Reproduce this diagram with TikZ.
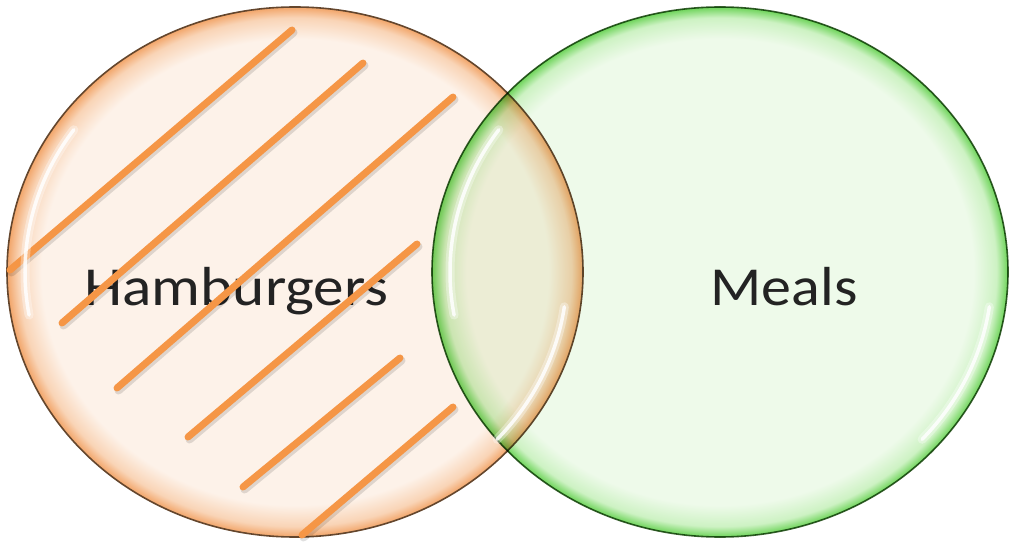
\documentclass[tikz,border=0pt]{standalone}
\usepackage{fontspec}
\setmainfont{Carlito}
\usetikzlibrary{shapes.geometric}
\definecolor{oin}{RGB}{253,242,233}
\definecolor{omid}{RGB}{249,212,182}
\definecolor{orim}{RGB}{242,165,105}
\definecolor{obord}{RGB}{100,70,45}
\definecolor{gin}{RGB}{238,250,234}
\definecolor{gmid}{RGB}{205,242,195}
\definecolor{grim}{RGB}{110,212,90}
\definecolor{gbord}{RGB}{55,95,45}
\definecolor{hatch}{RGB}{245,150,70}
\definecolor{txt}{RGB}{35,35,35}
\pgfdeclareradialshading{orangeball}{\pgfpoint{0bp}{0bp}}{color(0bp)=(oin); color(22bp)=(oin); color(24bp)=(omid); color(25bp)=(orim); color(50bp)=(orim)}
\pgfdeclareradialshading{greenball}{\pgfpoint{0bp}{0bp}}{color(0bp)=(gin); color(22bp)=(gin); color(24bp)=(gmid); color(25bp)=(grim); color(50bp)=(grim)}
\tikzset{
  setcircle/.style={ellipse, minimum width=576pt, minimum height=530pt, inner sep=0pt, outer sep=0pt, line width=1.6pt},
  hatchline/.style={draw=hatch, line width=7pt, line cap=round},
  hatchshadow/.style={draw=black, opacity=0.12, line width=8pt, line cap=round},
  glowwide/.style={draw=white, line width=9pt, opacity=0.35, line cap=round},
  glownarrow/.style={draw=white, line width=3.5pt, opacity=0.85, line cap=round},
  setlabel/.style={font=\fontsize{55}{60}\selectfont, xscale=1.09, anchor=base, text=txt, inner sep=0pt}
}
\begin{document}
\begin{tikzpicture}[x=1pt,y=1pt]
\useasboundingbox (0,0) rectangle (1022,552);
\fill[white] (0,0) rectangle (1022,552);
% left set
\node[setcircle, shading=orangeball, draw=obord] (ham) at (295,280) {};
% label under the hatching
\node[setlabel, xscale=1.02] (hamtext) at (236.5,247) {Hamburgers};
% hatching shadows
\begin{scope}[shift={(1.5,-2.5)}]
\draw[hatchshadow] (10,282) -- (292,522);
\draw[hatchshadow] (62,229) -- (363,489);
\draw[hatchshadow] (117,164) -- (453,455);
\draw[hatchshadow] (188,115) -- (417,308);
\draw[hatchshadow] (243,65) -- (400,194);
\draw[hatchshadow] (302,17) -- (453,145);
\end{scope}
\draw[hatchline] (10,282) -- (292,522);
\draw[hatchline] (62,229) -- (363,489);
\draw[hatchline] (117,164) -- (453,455);
\draw[hatchline] (188,115) -- (417,308);
\draw[hatchline] (243,65) -- (400,194);
\draw[hatchline] (302,17) -- (453,145);
% right set, multiplied over left
\begin{scope}[blend mode=multiply]
\node[setcircle, shading=greenball, draw=gbord] (meal) at (720,280) {};
\end{scope}
% highlights
\foreach \c in {ham,meal}{
  \draw[glowwide] (\c.center) ++(145:270pt and 248pt) arc[start angle=145, end angle=190, x radius=270pt, y radius=248pt];
  \draw[glownarrow] (\c.center) ++(145:270pt and 248pt) arc[start angle=145, end angle=190, x radius=270pt, y radius=248pt];
  \draw[glowwide] (\c.center) ++(-42:272pt and 250pt) arc[start angle=-42, end angle=-8, x radius=272pt, y radius=250pt];
  \draw[glownarrow] (\c.center) ++(-42:272pt and 250pt) arc[start angle=-42, end angle=-8, x radius=272pt, y radius=250pt];
}
\node[setlabel] (mealtext) at (784,247) {Meals};
\end{tikzpicture}
\end{document}
